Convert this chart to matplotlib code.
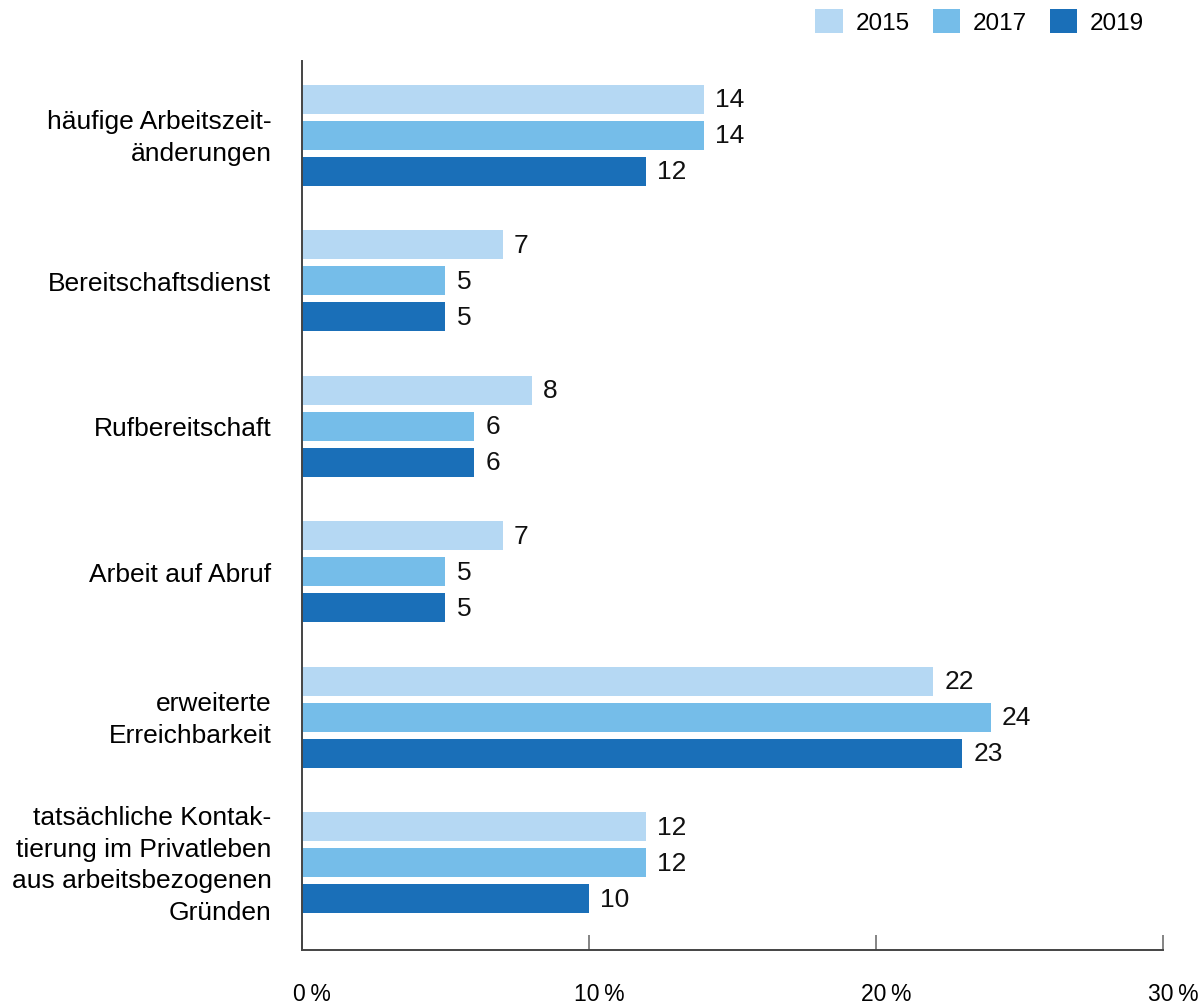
import matplotlib.pyplot as plt
import matplotlib.transforms as mtransforms
import numpy as np

plt.rcParams['font.family'] = ['Liberation Sans', 'DejaVu Sans']

categories = [
    'häufige Arbeitszeit-\nänderungen',
    'Bereitschaftsdienst',
    'Rufbereitschaft',
    'Arbeit auf Abruf',
    'erweiterte\nErreichbarkeit',
    'tatsächliche Kontak-\ntierung im Privatleben\naus arbeitsbezogenen\nGründen',
]
years = ['2015', '2017', '2019']
werte_2015 = [14, 7, 8, 7, 22, 12]
werte_2017 = [14, 5, 6, 5, 24, 12]
werte_2019 = [12, 5, 6, 5, 23, 10]
farben = ['#b5d8f3', '#75bde9', '#1a6fb8']
x_ticks = [0, 10, 20, 30]

fs = 19
fs_legende = 17.5
fs_achse = 16.5

fig = plt.figure(figsize=(12.02, 10.04), dpi=100)
ax = fig.add_axes([0.2512, 0.0528, 0.7164, 0.8854])

pos = np.arange(len(categories))[::-1]
hoehe = 0.2
abstand = 0.247
for k, (werte, farbe, jahr) in enumerate(zip([werte_2015, werte_2017, werte_2019], farben, years)):
    bars = ax.barh(pos + abstand * (1 - k), werte, height=hoehe, color=farbe, label=jahr)
    ax.bar_label(bars, padding=8, fontsize=fs, color='#111111')

ax.set_ylim(-0.6, 5.51)
ax.set_xlim(0, 30)
ax.set_yticks(pos)
ax.set_yticklabels(categories, fontsize=fs, ha='right', va='center', linespacing=1.4)
ax.tick_params(axis='y', length=0, pad=22)
# Kategorien leicht nach unten schieben
versatz_y = mtransforms.ScaledTranslation(0, -2 / 100, fig.dpi_scale_trans)
for lab in ax.get_yticklabels():
    lab.set_transform(lab.get_transform() + versatz_y)

ax.set_xticks(x_ticks)
ax.set_xticklabels([f'{t}\u2009%' for t in x_ticks], fontsize=fs_achse)
ax.tick_params(axis='x', direction='in', length=11, width=1.2, color='#707070', pad=23)
versatz_x = mtransforms.ScaledTranslation(10 / 100, 0, fig.dpi_scale_trans)
for lab in ax.get_xticklabels():
    lab.set_transform(lab.get_transform() + versatz_x)

for side in ['top', 'right']:
    ax.spines[side].set_visible(False)
for side in ['left', 'bottom']:
    ax.spines[side].set_color('#444444')
    ax.spines[side].set_linewidth(1.4)

fig.legend(loc='upper right', bbox_to_anchor=(0.952, 0.99), ncol=3, frameon=False,
           fontsize=fs_legende, handlelength=1.12, handleheight=1.12, handletextpad=0.53,
           columnspacing=0.95, borderpad=0, borderaxespad=0)

fig.savefig('out.png', dpi=100)
